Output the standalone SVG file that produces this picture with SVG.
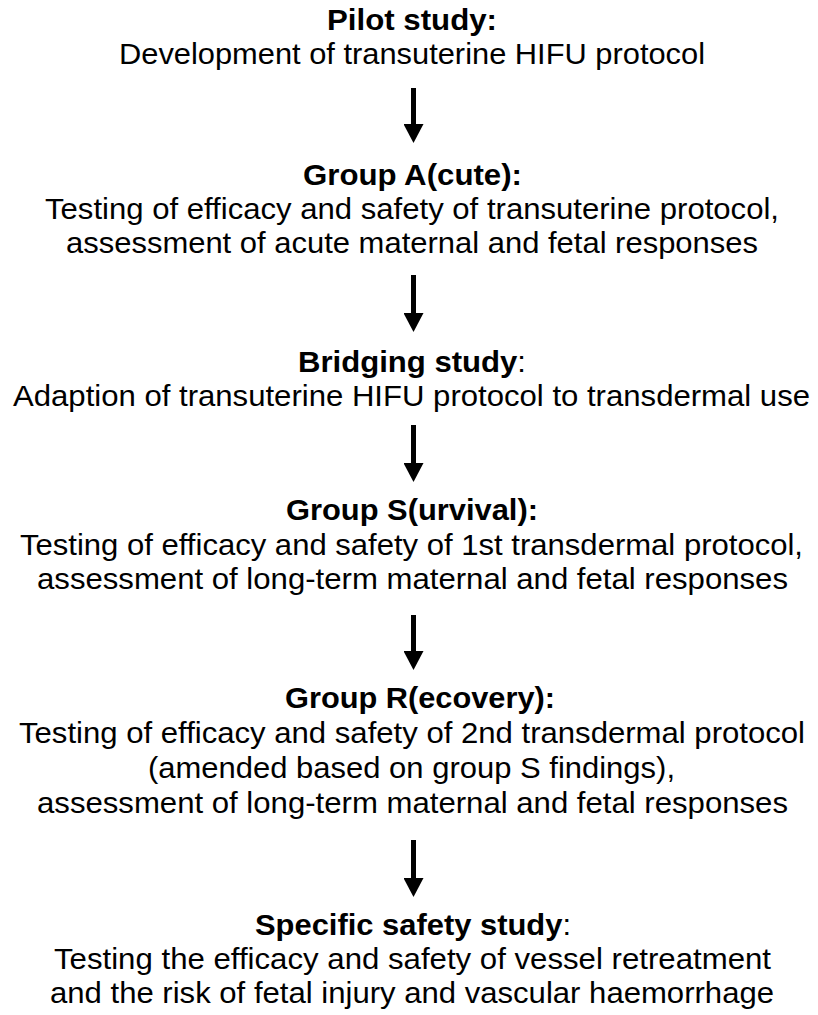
<svg xmlns="http://www.w3.org/2000/svg" width="818" height="1015" viewBox="0 0 818 1015">
<style>
text{font-family:"Liberation Sans",Arial,Helvetica,sans-serif;font-size:30px;fill:#000;}
.b{font-weight:bold;}
.arr{stroke:#000;stroke-width:5;fill:none;}
</style>
<defs>
<marker id="ah" markerUnits="userSpaceOnUse" markerWidth="19" markerHeight="20" viewBox="0 0 19 20" refX="0" refY="10" orient="auto">
<path d="M0,0 L19,10 L0,20 Z" fill="#000"/>
</marker>
</defs>
<rect width="818" height="1015" fill="#fff"/>
<g id="node-pilot">
<text x="327" y="30" class="b" textLength="170" lengthAdjust="spacingAndGlyphs">Pilot study:</text>
<text x="119" y="64" textLength="586" lengthAdjust="spacingAndGlyphs">Development of transuterine HIFU protocol</text>
</g>
<g id="node-groupA">
<text x="303" y="185" class="b" textLength="219" lengthAdjust="spacingAndGlyphs">Group A(cute):</text>
<text x="45" y="219" textLength="734" lengthAdjust="spacingAndGlyphs">Testing of efficacy and safety of transuterine protocol,</text>
<text x="66" y="253" textLength="692" lengthAdjust="spacingAndGlyphs">assessment of acute maternal and fetal responses</text>
</g>
<g id="node-bridging">
<text x="298" y="372" textLength="228" lengthAdjust="spacingAndGlyphs"><tspan class="b">Bridging study</tspan>:</text>
<text x="13" y="406" textLength="797" lengthAdjust="spacingAndGlyphs">Adaption of transuterine HIFU protocol to transdermal use</text>
</g>
<g id="node-groupS">
<text x="286" y="520" class="b" textLength="252" lengthAdjust="spacingAndGlyphs">Group S(urvival):</text>
<text x="20" y="555" textLength="783" lengthAdjust="spacingAndGlyphs">Testing of efficacy and safety of 1st transdermal protocol,</text>
<text x="37" y="589" textLength="751" lengthAdjust="spacingAndGlyphs">assessment of long-term maternal and fetal responses</text>
</g>
<g id="node-groupR">
<text x="285" y="708" class="b" textLength="270" lengthAdjust="spacingAndGlyphs">Group R(ecovery):</text>
<text x="19" y="743" textLength="786" lengthAdjust="spacingAndGlyphs">Testing of efficacy and safety of 2nd transdermal protocol</text>
<text x="148" y="778" textLength="527" lengthAdjust="spacingAndGlyphs">(amended based on group S findings),</text>
<text x="37" y="813" textLength="751" lengthAdjust="spacingAndGlyphs">assessment of long-term maternal and fetal responses</text>
</g>
<g id="node-safety">
<text x="255" y="935" textLength="316" lengthAdjust="spacingAndGlyphs"><tspan class="b">Specific safety study</tspan>:</text>
<text x="54" y="969" textLength="717" lengthAdjust="spacingAndGlyphs">Testing the efficacy and safety of vessel retreatment</text>
<text x="50" y="1003" textLength="724" lengthAdjust="spacingAndGlyphs">and the risk of fetal injury and vascular haemorrhage</text>
</g>
<g id="connectors">
<line class="arr" x1="413.5" y1="88" x2="413.5" y2="124" marker-end="url(#ah)"/>
<line class="arr" x1="413.5" y1="275" x2="413.5" y2="313" marker-end="url(#ah)"/>
<line class="arr" x1="413.5" y1="425" x2="413.5" y2="463" marker-end="url(#ah)"/>
<line class="arr" x1="413.5" y1="615" x2="413.5" y2="651" marker-end="url(#ah)"/>
<line class="arr" x1="413.5" y1="840" x2="413.5" y2="878" marker-end="url(#ah)"/>
</g>
</svg>
